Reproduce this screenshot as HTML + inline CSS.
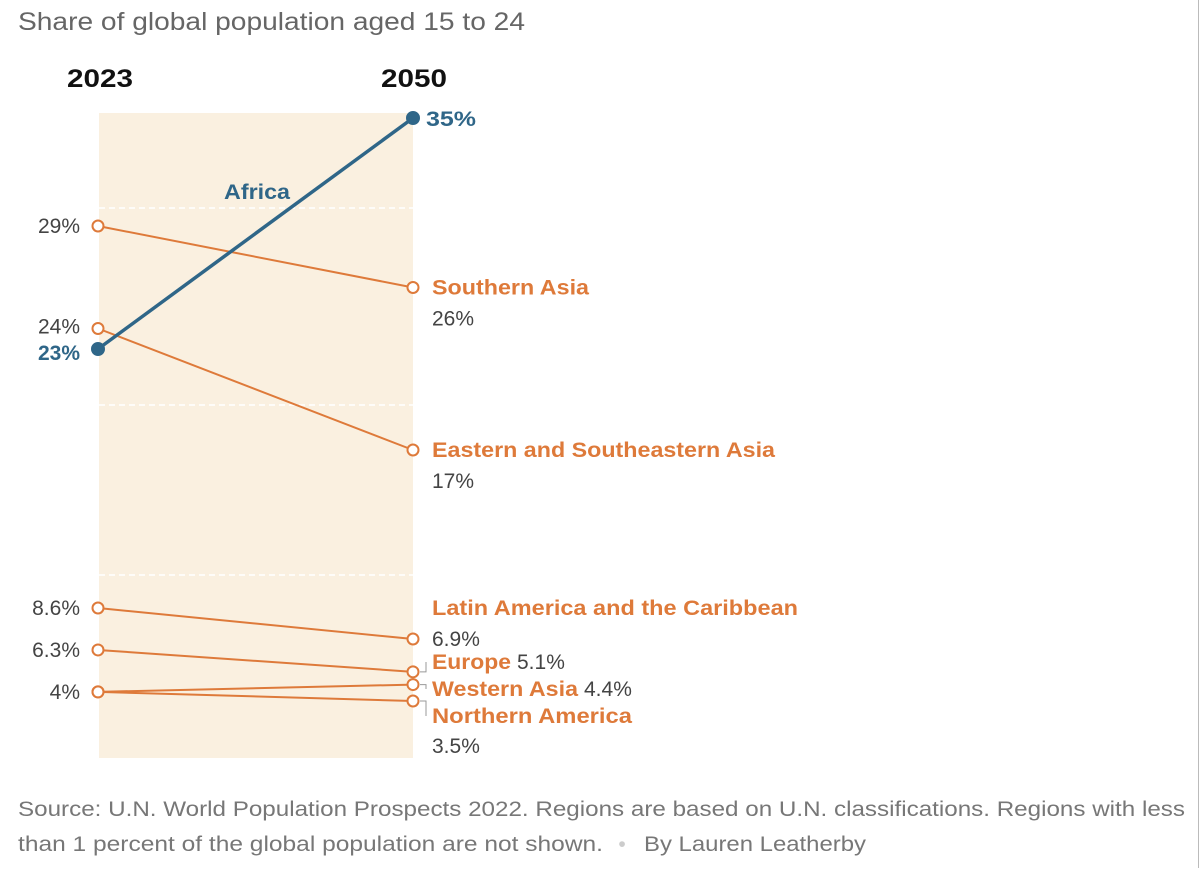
<!DOCTYPE html>
<html><head><meta charset="utf-8"><style>
body{margin:0;background:#fff;width:1200px;height:868px;overflow:hidden;font-family:"Liberation Sans",sans-serif}
</style></head><body>
<svg width="1200" height="868" xmlns="http://www.w3.org/2000/svg">
<rect x="0" y="0" width="1200" height="868" fill="#fff"/>
<line x1="1198.5" y1="0" x2="1198.5" y2="868" stroke="#bbb" stroke-width="1"/>
<text x="18" y="30" font-size="25" fill="#666" textLength="507" lengthAdjust="spacingAndGlyphs">Share of global population aged 15 to 24</text>
<text x="67" y="87" font-size="25" font-weight="bold" fill="#111" textLength="66" lengthAdjust="spacingAndGlyphs">2023</text>
<text x="381" y="87" font-size="25" font-weight="bold" fill="#111" textLength="66" lengthAdjust="spacingAndGlyphs">2050</text>
<rect x="99" y="113" width="314" height="645" fill="#faf0e0"/>
<g id="grid"></g>
<g id="lines"></g>
<g id="labels"></g>
<text x="18" y="816" font-size="21" fill="#777" textLength="1167" lengthAdjust="spacingAndGlyphs">Source: U.N. World Population Prospects 2022. Regions are based on U.N. classifications. Regions with less</text>
<text x="18" y="851" font-size="21" fill="#777" textLength="585" lengthAdjust="spacingAndGlyphs">than 1 percent of the global population are not shown.</text>
<text x="622" y="851" font-size="21" fill="#ccc" text-anchor="middle">•</text>
<text x="644" y="851" font-size="21" fill="#777" textLength="222" lengthAdjust="spacingAndGlyphs">By Lauren Leatherby</text>
</svg>
<script>
const regions=["Africa","Southern Asia","Eastern and Southeastern Asia","Latin America and the Caribbean","Europe","Western Asia","Northern America"];
const values2023=[23,29,24,8.6,6.3,4,4];
const values2050=[35,26,17,6.9,5.1,4.4,3.5];
const labels2023=["23%","29%","24%","8.6%","6.3%","4%",""];
const labels2050=["35%","26%","17%","6.9%","5.1%","4.4%","3.5%"];
// piecewise scale (chart uses broken scale)
const dom=[3.5,8.6,17,23,29,35], rng=[701,608,450,349,226,118];
function y(v){for(let i=0;i<dom.length-1;i++){if(v<=dom[i+1]||i==dom.length-2){const t=(v-dom[i])/(dom[i+1]-dom[i]);return rng[i]+t*(rng[i+1]-rng[i]);}}}
const x0=98,x1=413,NS="http://www.w3.org/2000/svg";
function mk(tag,attrs,parent,text){const e=document.createElementNS(NS,tag);for(const k in attrs)e.setAttribute(k,attrs[k]);if(text!=null)e.textContent=text;document.getElementById(parent).appendChild(e);return e;}
[208,405,575].forEach(gy=>{const g=mk("line",{x1:99,x2:413,y1:gy,y2:gy,stroke:"#fff","stroke-width":1.5,"stroke-dasharray":"6 4"},"grid");

});
const BLUE="#2f6688",OR="#de7a3a";
for(let i=regions.length-1;i>=0;i--){
 const c=i==0?BLUE:OR,w=i==0?3.5:2;
 const l=mk("line",{x1:x0,y1:y(values2023[i]),x2:x1,y2:y(values2050[i]),stroke:c,"stroke-width":w},"lines");
 
 
 [[x0,values2023[i]],[x1,values2050[i]]].forEach(p=>{
  const d=mk("circle",{cx:p[0],cy:y(p[1]),r:i==0?6:5.5,fill:i==0?BLUE:"#fff",stroke:c,"stroke-width":2},"lines");
  
  
 });
}
// left labels
for(let i=0;i<regions.length;i++){if(!labels2023[i])continue;
 let yy=y(values2023[i])+7; if(i==0)yy+=4; if(i==2)yy-=2;
 const t=mk("text",{x:80,y:yy,"font-size":21,"text-anchor":"end",fill:i==0?BLUE:"#444","font-weight":i==0?"bold":"normal"},"labels",labels2023[i]);
 
 
}
const nameLen=[66,157,343,366,79,146,200];
// right labels
const a=mk("text",{x:426,y:y(values2050[0])+8,"font-size":21,"font-weight":"bold",fill:BLUE,textLength:50,lengthAdjust:"spacingAndGlyphs"},"labels",labels2050[0]);


const af=mk("text",{x:224,y:199,"font-size":21,"font-weight":"bold",fill:BLUE,textLength:nameLen[0],lengthAdjust:"spacingAndGlyphs"},"labels",regions[0]);


[1,2,3].forEach(i=>{const yy=y(values2050[i]);
 const ny=i==3?yy-24:yy+7;
 const n=mk("text",{x:432,y:ny,"font-size":21,"font-weight":"bold",fill:OR,textLength:nameLen[i],lengthAdjust:"spacingAndGlyphs"},"labels",regions[i]);
 
 
 const v=mk("text",{x:432,y:i==3?yy+7:yy+38,"font-size":21,fill:"#444"},"labels",labels2050[i]);
 
 
});
const stacked=[[4,669,517],[5,696,584],[6,723,0]];
stacked.forEach(([i,ty,vx])=>{
 const t=mk("text",{x:432,y:ty,"font-size":21,"font-weight":"bold",fill:OR,textLength:nameLen[i],lengthAdjust:"spacingAndGlyphs"},"labels",regions[i]);
 
 
 if(i<6){const v=mk("text",{x:vx,y:ty,"font-size":21,fill:"#444"},"labels",labels2050[i]);
 
 }
});
const na=mk("text",{x:432,y:753,"font-size":21,fill:"#444"},"labels",labels2050[6]);


[[y(values2050[4]),662],[y(values2050[5]),689],[y(values2050[6]),716]].forEach(([py,ty])=>{
 const p=mk("path",{d:`M420 ${py} L426 ${py} L426 ${ty}`,fill:"none",stroke:"#999","stroke-width":1},"labels");
 
 
});
</script>
</body></html>
